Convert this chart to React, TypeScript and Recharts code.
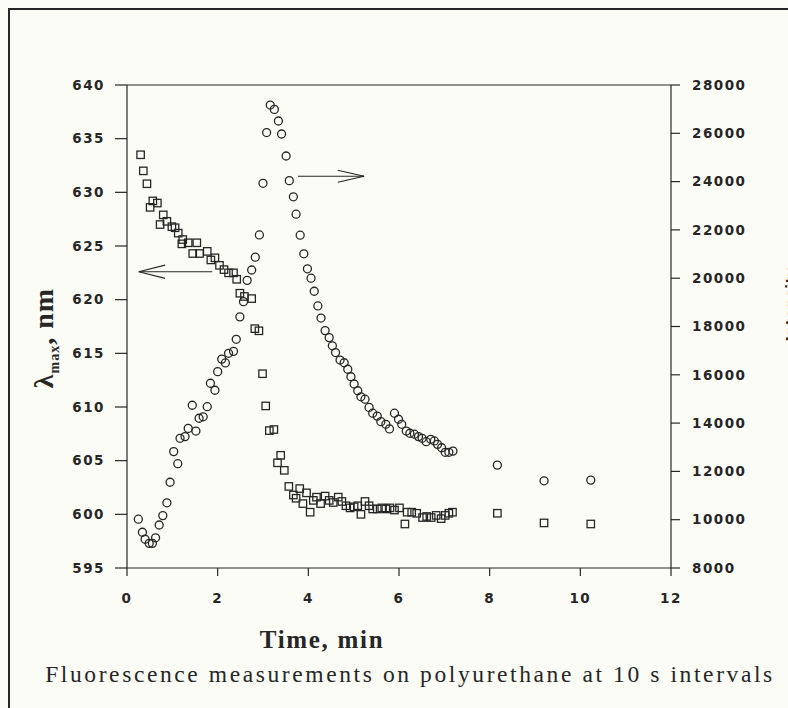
import React from 'react';
import { ScatterChart, Scatter, XAxis, YAxis, ReferenceLine } from 'recharts';

// λmax series (squares, left axis)
const lambdaTime = [0.30,0.36,0.44,0.51,0.57,0.67,0.73,0.80,0.88,0.99,1.06,1.13,1.21,1.23,1.35,1.45,1.54,1.60,1.77,1.85,1.94,2.04,2.14,2.24,2.35,2.42,2.49,2.59,2.75,2.82,2.91,2.99,3.06,3.14,3.24,3.32,3.39,3.47,3.57,3.67,3.73,3.81,3.88,3.96,4.04,4.11,4.18,4.27,4.37,4.46,4.55,4.66,4.74,4.83,4.92,5.01,5.09,5.16,5.25,5.34,5.42,5.52,5.62,5.71,5.80,5.90,6.01,6.13,6.18,6.28,6.39,6.52,6.61,6.71,6.82,6.93,7.02,7.10,7.18,8.17,9.20,10.23];
const lambdaValue = [633.5,632.0,630.8,628.6,629.2,629.0,627.0,627.9,627.3,626.8,626.7,626.2,625.2,625.6,625.3,624.3,625.3,624.3,624.5,623.7,623.9,623.2,622.8,622.5,622.5,621.9,620.6,620.3,620.1,617.3,617.1,613.1,610.1,607.8,607.9,604.8,605.5,604.1,602.6,601.8,601.5,602.4,601.0,602.0,600.2,601.3,601.6,601.0,601.7,601.3,601.1,601.6,601.2,600.8,600.6,600.7,600.8,600.0,601.2,600.8,600.5,600.5,600.6,600.5,600.6,600.4,600.6,599.1,600.2,600.2,600.1,599.7,599.8,599.7,599.9,599.6,599.9,600.1,600.2,600.1,599.2,599.1];

// Intensity series (circles, right axis)
const intensityTime = [0.25,0.34,0.40,0.49,0.56,0.63,0.71,0.79,0.88,0.95,1.03,1.12,1.17,1.28,1.35,1.44,1.52,1.59,1.68,1.77,1.84,1.94,2.00,2.09,2.17,2.24,2.35,2.41,2.49,2.57,2.65,2.75,2.83,2.92,3.00,3.08,3.16,3.25,3.34,3.41,3.51,3.58,3.67,3.73,3.82,3.90,3.98,4.06,4.13,4.21,4.28,4.37,4.46,4.53,4.60,4.70,4.79,4.87,4.94,5.01,5.09,5.16,5.25,5.34,5.42,5.52,5.60,5.71,5.79,5.90,5.99,6.06,6.16,6.24,6.34,6.43,6.51,6.60,6.70,6.78,6.85,6.94,7.02,7.10,7.19,8.17,9.20,10.23];
const intensityValue = [10020,9480,9190,9020,9020,9250,9780,10170,10700,11550,12820,12320,13370,13440,13780,14740,13670,14200,14260,14680,15650,15360,16130,16650,16490,16890,16970,17470,18400,19030,19910,20340,20870,21790,23930,26030,27170,26990,26510,25970,25060,24040,23370,22650,21780,21010,20390,20000,19460,18850,18350,17830,17540,17200,16920,16610,16500,16230,15920,15620,15340,15090,14990,14650,14410,14290,14060,13950,13760,14410,14160,13950,13670,13580,13540,13440,13370,13230,13330,13260,13120,12980,12790,12790,12840,12260,11610,11640];

// Tick labels
const xTicks = [0, 2, 4, 6, 8, 10, 12];
const leftTicks = [595, 600, 605, 610, 615, 620, 625, 630, 635, 640];
const rightTicks = [8000, 10000, 12000, 14000, 16000, 18000, 20000, 22000, 24000, 26000, 28000];

// Annotation arrows (data coordinates, left axis): [x1, y1, x2, y2]
const leftArrow = [[0.26, 622.6, 1.88, 622.6], [0.26, 622.6, 0.84, 623.22], [0.26, 622.6, 0.84, 621.98]];
const rightArrow = [[3.77, 631.5, 5.23, 631.5], [5.23, 631.5, 4.65, 632.06], [5.23, 631.5, 4.65, 630.94]];

const lambdaData = lambdaTime.map((t, i) => ({ t, v: lambdaValue[i] }));
const intensityData = intensityTime.map((t, i) => ({ t, v: intensityValue[i] }));

const INK = '#262626';
const tickStyle = { fontSize: 13.5, fontWeight: 700, fill: INK, fontFamily: 'DejaVu Sans', letterSpacing: 1.5 };

const Square = (props: any) => {
  const { cx, cy } = props;
  if (cx == null || cy == null) return null;
  return <rect x={cx - 3.7} y={cy - 3.7} width={7.4} height={7.4} fill="none" stroke={INK} strokeWidth={1.3} />;
};

const Circle = (props: any) => {
  const { cx, cy } = props;
  if (cx == null || cy == null) return null;
  return <circle cx={cx} cy={cy} r={4} fill="none" stroke={INK} strokeWidth={1.3} />;
};

const LambdaLabel = () => (
  <text transform="translate(53,338) rotate(-90)" textAnchor="middle" fontFamily="Liberation Serif" fontWeight={700} fontSize={28} fill={INK} letterSpacing={1}>
    λ<tspan fontSize={14} dy={6}>max</tspan><tspan dy={-6}>, nm</tspan>
  </text>
);

const IntensityLabel = () => (
  <text transform="translate(796,304) rotate(-90)" textAnchor="middle" fontFamily="DejaVu Sans" fontWeight={700} fontSize={14} fill={INK} letterSpacing={0.5}>
    Intensity
  </text>
);

const BottomLabels = () => (
  <g>
    <text x={322} y={648} textAnchor="middle" fontFamily="Liberation Serif" fontWeight={700} fontSize={25} letterSpacing={1.7} fill={INK}>
      Time, min
    </text>
    <text x={410} y={682} textAnchor="middle" fontFamily="Liberation Serif" fontSize={23.5} letterSpacing={2.6} fill={INK}>
      Fluorescence measurements on polyurethane at 10 s intervals
    </text>
  </g>
);

export default function App() {
  return (
    <div style={{ position: 'fixed', left: 0, top: 0, width: 788, height: 708, overflow: 'hidden', background: '#fcfcf7' }}>
      <div style={{ position: 'absolute', left: 8, top: 8, width: 800, height: 720, border: `2.5px solid ${INK}`, boxSizing: 'border-box' }} />
      <div style={{ position: 'absolute', left: 0, top: 0 }}>
        <ScatterChart width={788} height={708} margin={{ top: 85, right: 37, bottom: 100, left: 67 }}>
          <XAxis
            type="number"
            dataKey="t"
            domain={[0, 12]}
            ticks={xTicks}
            interval={0}
            height={40}
            tick={tickStyle}
            tickSize={8}
            tickMargin={17}
            axisLine={{ stroke: INK, strokeWidth: 1.2 }}
            tickLine={{ stroke: INK, strokeWidth: 1.2 }}
            label={<BottomLabels />}
          />
          <YAxis
            yAxisId="left"
            type="number"
            dataKey="v"
            domain={[595, 640]}
            ticks={leftTicks}
            interval={0}
            width={60}
            tick={tickStyle}
            tickSize={12}
            tickMargin={10}
            axisLine={{ stroke: INK, strokeWidth: 1.2 }}
            tickLine={{ stroke: INK, strokeWidth: 1.2 }}
            label={<LambdaLabel />}
          />
          <YAxis
            yAxisId="right"
            orientation="right"
            type="number"
            dataKey="v"
            domain={[8000, 28000]}
            ticks={rightTicks}
            interval={0}
            width={80}
            tick={tickStyle}
            tickSize={9}
            tickMargin={12}
            axisLine={{ stroke: INK, strokeWidth: 1.2 }}
            tickLine={{ stroke: INK, strokeWidth: 1.2 }}
            label={<IntensityLabel />}
          />
          <ReferenceLine yAxisId="left" y={640} stroke={INK} strokeWidth={1.2} />
          {leftArrow.concat(rightArrow).map((s, i) => (
            <ReferenceLine
              key={i}
              yAxisId="left"
              segment={[{ x: s[0], y: s[1] }, { x: s[2], y: s[3] }]}
              stroke={INK}
              strokeWidth={1.2}
            />
          ))}
          <Scatter yAxisId="left" data={lambdaData} shape={<Square />} isAnimationActive={false} />
          <Scatter yAxisId="right" data={intensityData} shape={<Circle />} isAnimationActive={false} />
        </ScatterChart>
      </div>
    </div>
  );
}
